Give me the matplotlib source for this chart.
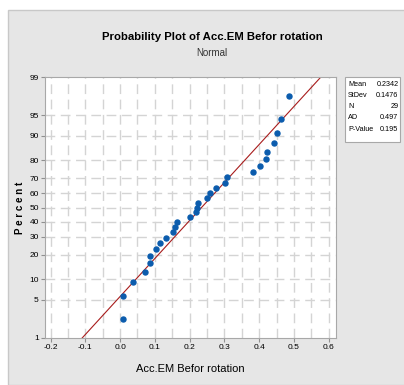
import numpy as np
import matplotlib
matplotlib.use('Agg')
import matplotlib.pyplot as plt
from matplotlib.patches import Rectangle
from statistics import NormalDist

plt.rcParams['font.family'] = ['Liberation Sans', 'DejaVu Sans']

# sorted sample values
acc_em = [0.0076, 0.0093, 0.0381, 0.0726, 0.0852, 0.0869, 0.1042, 0.1148, 0.1312, 0.1531,
          0.1580, 0.1629, 0.2011, 0.2175, 0.2204, 0.2241, 0.2491, 0.2586, 0.2767, 0.3017,
          0.3075, 0.3814, 0.4032, 0.4196, 0.4234, 0.4435, 0.4512, 0.4627, 0.4866]

# summary stats from the box
mean = 0.2342
stdev = 0.1476
n = 29
ad = 0.497
p_value = 0.195

pct_ticks = [1, 5, 10, 20, 30, 40, 50, 60, 70, 80, 90, 95, 99]
x_ticks = [-0.2, -0.1, 0.0, 0.1, 0.2, 0.3, 0.4, 0.5, 0.6]

nd = NormalDist()
def z(p):
    return nd.inv_cdf(p / 100.0)

W, H = 404, 385
fig = plt.figure(figsize=(W / 100, H / 100), dpi=100)
fig.patch.set_facecolor('white')
fig.patches.append(Rectangle((8 / W, 0), 1, (H - 10) / H, transform=fig.transFigure,
                             facecolor='#e6e6e6', edgecolor='#c8c8c8', lw=1, zorder=-10))

ax = fig.add_axes([45 / W, 1 - 338 / H, (336 - 45) / W, (338 - 77) / H])
ax.set_facecolor('white')

# median ranks
ranks = np.arange(1, n + 1)
pp = (ranks - 0.3) / (n + 0.4) * 100
ax.plot(acc_em, [z(p) for p in pp], 'o', color='#0b5cad', ms=3.6, mec='#0b5cad', zorder=3)

# fitted normal line
zl = np.array([z(1), z(99)])
ax.plot(mean + stdev * zl, zl, color='#a81c1c', lw=0.8, zorder=2)

ax.set_xlim(-0.216, 0.621)
ax.set_ylim(z(1), z(99))

# grid
for gx in np.arange(-0.2, 0.601, 0.05):
    ax.axvline(gx, color='#d4d4d4', lw=1.0, ls=(0, (7, 4)), zorder=0)
for p in pct_ticks[1:-1]:
    ax.axhline(z(p), color='#d4d4d4', lw=1.0, ls=(0, (7, 4)), zorder=0)

ax.set_yticks([z(p) for p in pct_ticks])
ax.set_yticklabels([str(p) for p in pct_ticks])
ax.set_xticks(x_ticks)
ax.set_xticklabels(['%.1f' % v for v in x_ticks])
ax.tick_params(labelsize=6, length=3, color='#909090', pad=1.5)
for s in ax.spines.values():
    s.set_color('#a8a8a8')

ax.set_xlabel('Acc.EM Befor rotation', fontsize=8, labelpad=9)
ax.set_ylabel('P e r c e n t', fontsize=7, fontweight='bold', labelpad=3)

fig.text(212 / W, 1 - 37 / H, 'Probability Plot of Acc.EM Befor rotation',
         ha='center', va='center', fontsize=8.2, fontweight='bold')
fig.text(212 / W, 1 - 53 / H, 'Normal', ha='center', va='center', fontsize=7, color='#333333')

# stats box
fig.patches.append(Rectangle((345 / W, 1 - 142 / H), 55 / W, 65 / H, transform=fig.transFigure,
                             facecolor='white', edgecolor='#a8a8a8', lw=0.8))
labels = ['Mean', 'StDev', 'N', 'AD', 'P-Value']
values = ['%.4f' % mean, '%.4f' % stdev, str(n), '%.3f' % ad, '%.3f' % p_value]
for i, (lb, vl) in enumerate(zip(labels, values)):
    yy = 1 - (84 + i * 11.3) / H
    fig.text(348 / W, yy, lb, fontsize=5.2, va='center', ha='left')
    fig.text(398.5 / W, yy, vl, fontsize=5.2, va='center', ha='right')

fig.savefig('out.png', dpi=100)
